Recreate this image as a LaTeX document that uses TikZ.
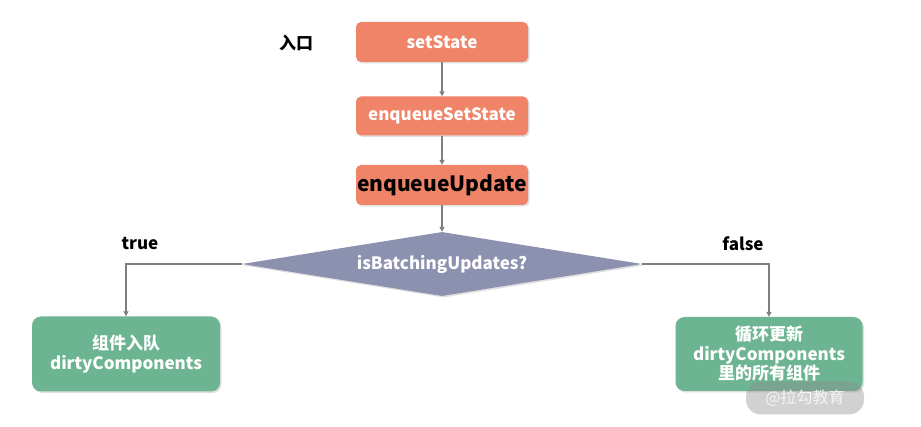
\documentclass[tikz,border=0pt]{standalone}
\usepackage{fontspec}
\setmainfont{Noto Sans CJK SC}
\usetikzlibrary{shapes.geometric,shadows,arrows.meta}
\definecolor{orangebox}{HTML}{F08468}
\definecolor{diamondc}{HTML}{8D91B0}
\definecolor{greenbox}{HTML}{6DB592}
\definecolor{linec}{HTML}{7F7F7F}
\tikzset{
  shadowed/.style={drop shadow={opacity=0.25,shadow xshift=1.5pt,shadow yshift=-1.5pt}},
  orangenode/.style={shadowed,fill=orangebox,rounded corners=5pt,minimum width=172pt,minimum height=40pt,inner sep=0pt,text=white,font=\bfseries\fontsize{17}{20}\selectfont},
  greennode/.style={shadowed,fill=greenbox,rounded corners=9pt,minimum width=188pt,minimum height=75pt,inner sep=0pt,text=white,align=center,font=\bfseries\fontsize{17}{20}\selectfont},
  decisionnode/.style={shadowed,diamond,aspect=6.25,fill=diamondc,minimum width=400pt,minimum height=64pt,inner sep=0pt,text=white,font=\bfseries\fontsize{17}{20}\selectfont},
  labeltext/.style={text=black,font=\bfseries\fontsize{17}{20}\selectfont},
  conn/.style={draw=linec,line width=1.6pt,-{Triangle[length=5pt,width=5pt]}},
}
\begin{document}
\begin{tikzpicture}[x=1pt,y=-1pt]
\useasboundingbox (0,0) rectangle (921,427);
\fill[white] (0,0) rectangle (921,427);

\node[orangenode] (s1) at (442,42) {setState};
\node[orangenode,minimum height=39pt] (s2) at (442,116) {enqueueSetState};
\node[orangenode,text=black,font=\bfseries\fontsize{21}{24}\selectfont] (s3) at (442,185) {enqueueUpdate};
\node[decisionnode] (d) at (442,264) {isBatchingUpdates?};
\node[greennode] (l) at (126,354) {组件入队\\dirtyComponents};
\node[greennode,minimum width=187pt,minimum height=74pt,font=\bfseries\fontsize{17}{19.5}\selectfont] (r) at (769,354) {循环更新\\dirtyComponents\\里的所有组件};

\node[labeltext] (entry) at (296,43) {入口};
\node[labeltext] (t) at (140,244) {true};
\node[labeltext] (f) at (743,244) {false};

\draw[conn] (s1) -- (s2);
\draw[conn] (s2) -- (s3);
\draw[conn] (s3) -- (d.north);
\draw[conn] (d.west) -| (l.north);
\draw[conn] (d.east) -| (r.north);

\node[fill=black!45,fill opacity=0.4,text opacity=1,rounded corners=15pt,minimum width=118pt,minimum height=33pt,inner sep=0pt,text=white!92!gray,font=\fontsize{16}{18}\selectfont] (wm) at (805,398) {@拉勾教育};
\end{tikzpicture}
\end{document}
